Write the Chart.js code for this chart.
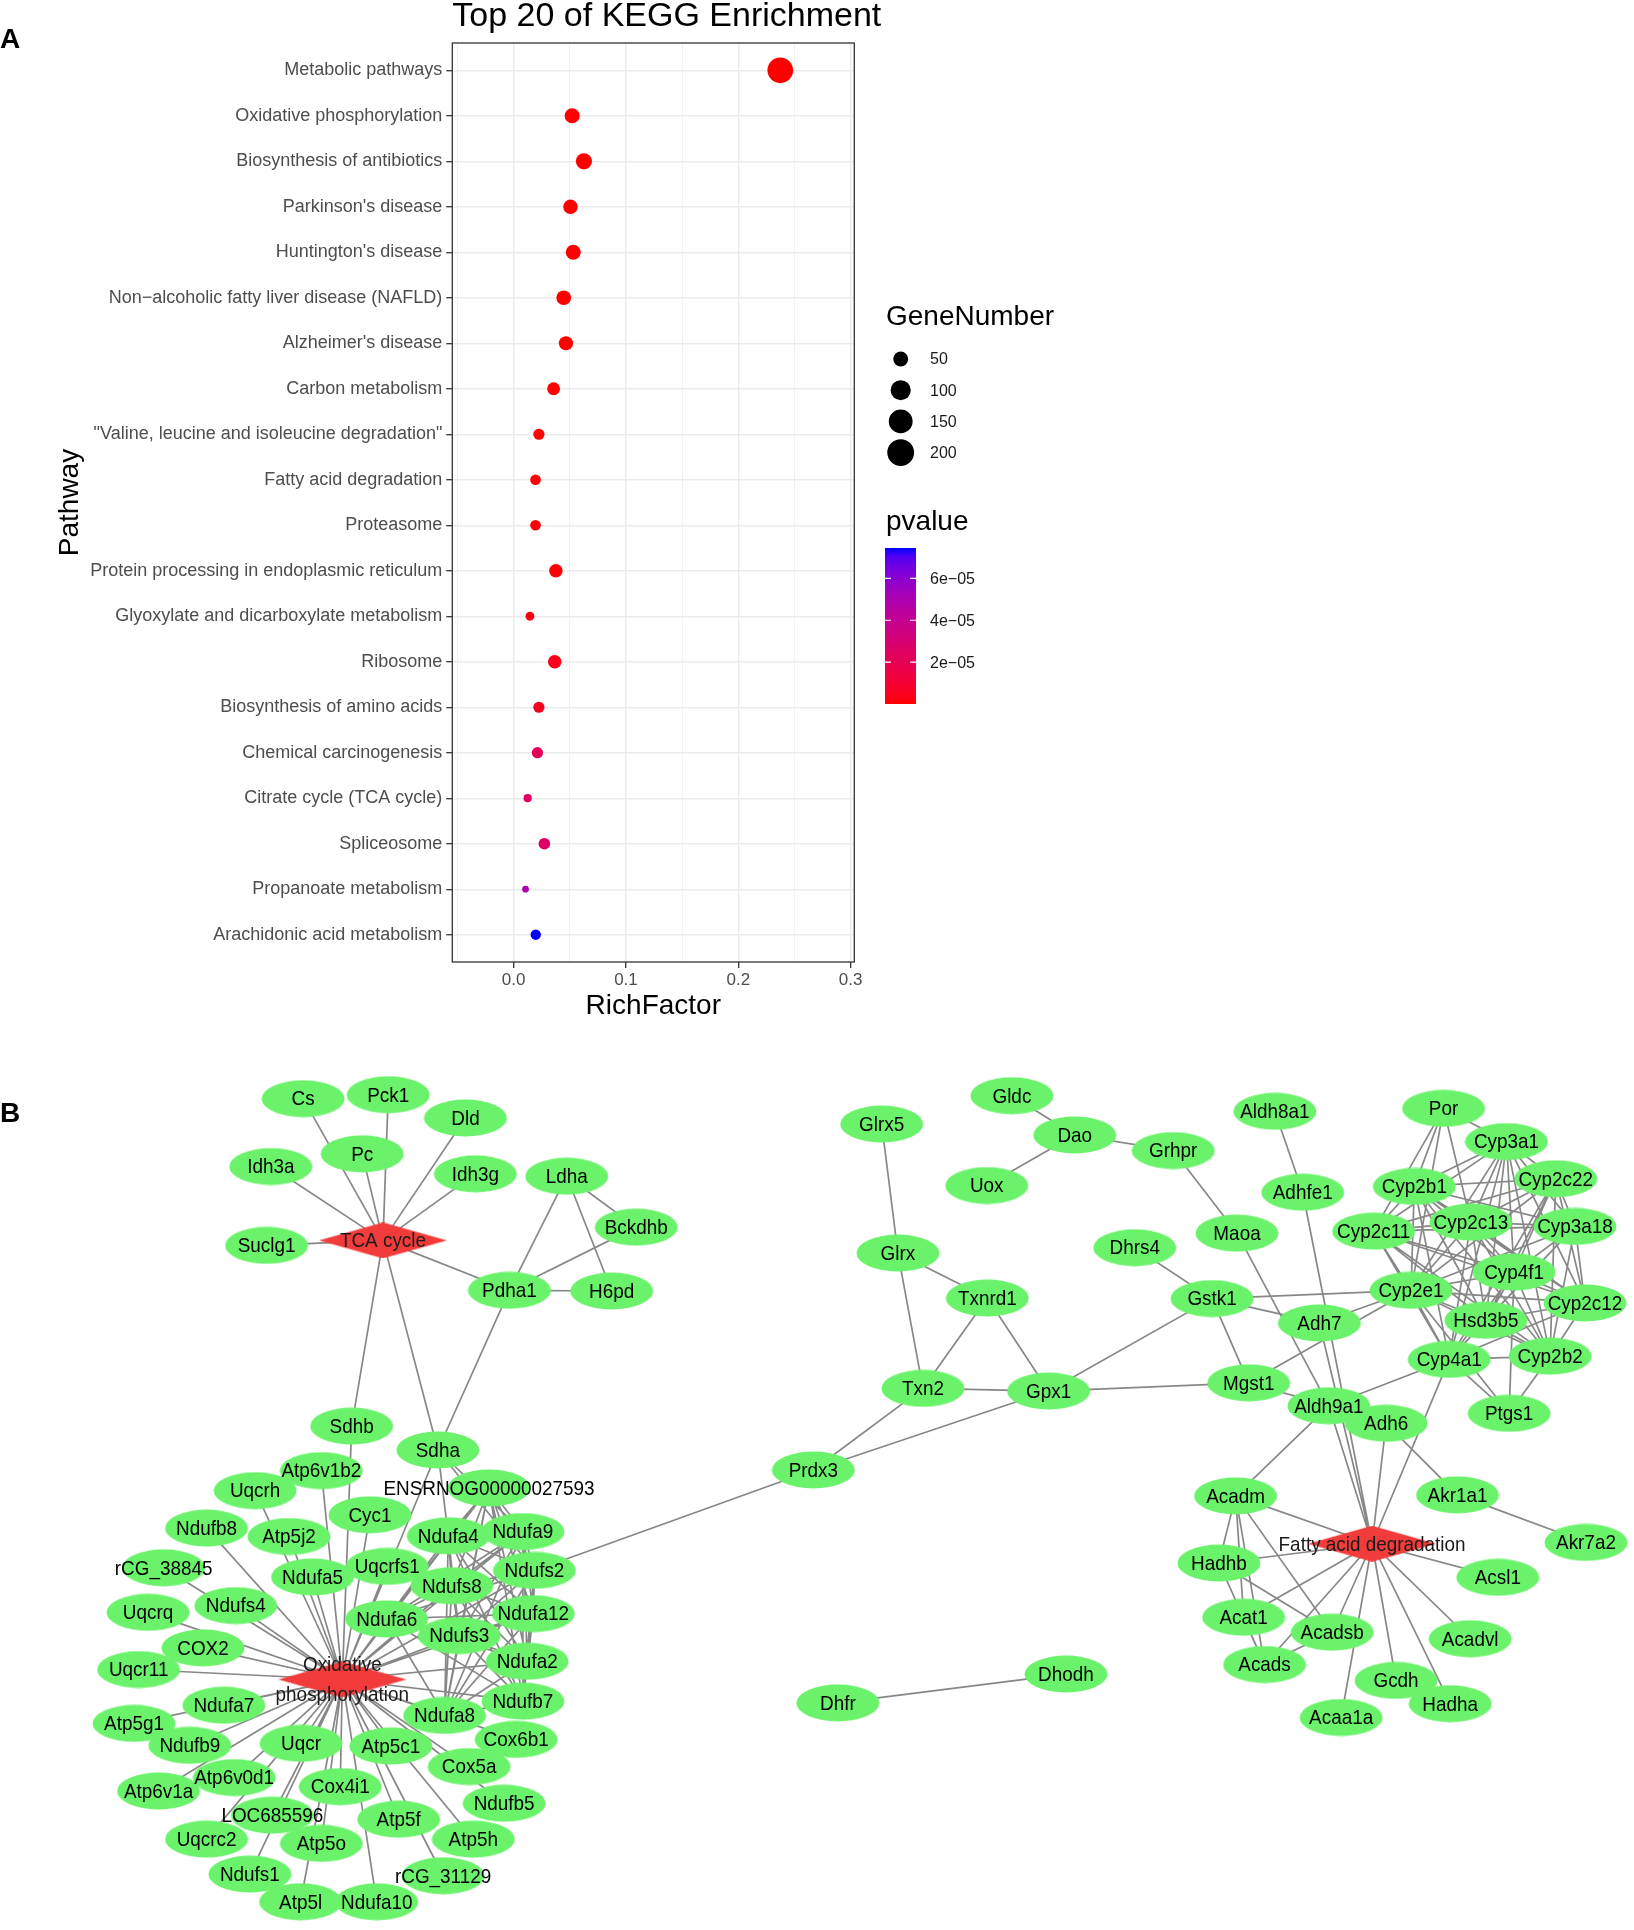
<!DOCTYPE html>
<html><head><meta charset="utf-8">
<script src="https://cdn.jsdelivr.net/npm/chart.js@4.4.1/dist/chart.umd.min.js"></script>
<style>
html,body{margin:0;padding:0;background:#fff;}
body{width:1634px;height:1930px;position:relative;overflow:hidden;}
#wa{position:absolute;left:0;top:0;width:1634px;height:1040px;}
#wb{position:absolute;left:0;top:1040px;width:1634px;height:890px;}
</style></head><body>
<div id="wa"><canvas id="ca"></canvas></div>
<div id="wb"><canvas id="cb"></canvas></div>
<script>
// ---------------- DATA: panel A ----------------
const pathways = [
  "Metabolic pathways",
  "Oxidative phosphorylation",
  "Biosynthesis of antibiotics",
  "Parkinson's disease",
  "Huntington's disease",
  "Non\u2212alcoholic fatty liver disease (NAFLD)",
  "Alzheimer's disease",
  "Carbon metabolism",
  "\"Valine, leucine and isoleucine degradation\"",
  "Fatty acid degradation",
  "Proteasome",
  "Protein processing in endoplasmic reticulum",
  "Glyoxylate and dicarboxylate metabolism",
  "Ribosome",
  "Biosynthesis of amino acids",
  "Chemical carcinogenesis",
  "Citrate cycle (TCA cycle)",
  "Spliceosome",
  "Propanoate metabolism",
  "Arachidonic acid metabolism"
];
const richFactor = [0.2374, 0.0521, 0.0626, 0.0506, 0.0531, 0.0446, 0.0466, 0.0356, 0.0225, 0.0195,
                    0.0195, 0.0376, 0.0145, 0.0366, 0.0225, 0.0212, 0.0125, 0.0274, 0.0106, 0.0197];
const geneNumber = [180, 51, 60, 47, 51, 48, 45, 37, 29, 27,
                    27, 41, 22, 41, 29, 29, 21, 31, 20, 26];
const pValue = [1.2e-20, 3.5e-15, 2.1e-14, 4.0e-13, 1.5e-12, 6.2e-12, 1.8e-10, 2.6e-8, 3.1e-7, 4.4e-7,
                5.9e-7, 1.2e-6, 2.3e-6, 3.6e-6, 5.0e-6, 2.2e-5, 2.4e-5, 2.6e-5, 4.9e-5, 7.45e-5];
const xMajorTicks = [0, 0.1, 0.2, 0.3];
const sizeBreaks = [50, 100, 150, 200];
const pBreaks = [2e-5, 4e-5, 6e-5];
const pBreakLabels = ["2e\u221205", "4e\u221205", "6e\u221205"];

// ---------------- DATA: panel B (network) ----------------
const nodeNames = [
  "Cs","Pck1","Dld","Pc","Idh3a","Idh3g","Ldha","Bckdhb","Suclg1","Pdha1","H6pd","TCA cycle",
  "Sdhb","Sdha","Atp6v1b2","Uqcrh","ENSRNOG00000027593","Cyc1","Ndufb8","Atp5j2","Ndufa4","Ndufa9",
  "rCG_38845","Uqcrfs1","Ndufa5","Ndufs2","Ndufs8","Ndufs4","Uqcrq","Ndufa6","Ndufa12","Ndufs3",
  "COX2","Ndufa2","Uqcr11","Oxidative phosphorylation","Ndufa7","Ndufb7","Ndufa8","Atp5g1","Cox6b1","Ndufb9",
  "Uqcr","Atp5c1","Cox5a","Atp6v0d1","Atp6v1a","Cox4i1","Ndufb5","LOC685596","Atp5f","Uqcrc2",
  "Atp5o","Atp5h","Ndufs1","rCG_31129","Atp5l","Ndufa10",
  "Glrx5","Gldc","Dao","Grhpr","Uox","Aldh8a1","Adhfe1","Maoa","Dhrs4","Glrx","Txnrd1","Gstk1",
  "Adh7","Txn2","Gpx1","Mgst1","Aldh9a1","Prdx3",
  "Por","Cyp3a1","Cyp2b1","Cyp2c22","Cyp2c11","Cyp2c13","Cyp3a18","Cyp4f1","Cyp2e1","Cyp2c12",
  "Hsd3b5","Cyp4a1","Cyp2b2","Ptgs1","Adh6",
  "Acadm","Akr1a1","Akr7a2","Fatty acid degradation","Hadhb","Acsl1","Acat1","Acadsb","Acadvl","Acads",
  "Gcdh","Hadha","Acaa1a",
  "Dhodh","Dhfr"
];
const nodeX = [
  300.0, 385.6, 463.3, 359.4, 267.5, 473.3, 565.2, 635.1, 263.2, 507.5, 610.4, 380.3,
  348.8, 435.5, 318.3, 251.7, 487.0, 367.2, 202.8, 285.8, 446.0, 521.1,
  159.6, 384.6, 309.4, 532.7, 449.6, 232.2, 143.9, 384.1, 531.6, 457.1,
  199.2, 525.4, 134.5, 339.4, 220.2, 521.1, 442.3, 129.8, 514.3, 186.0,
  297.9, 388.2, 467.0, 230.6, 154.5, 337.3, 502.2, 269.0, 396.1, 202.8,
  318.3, 471.2, 246.4, 440.8, 297.4, 374.0,
  882.1, 1013.1, 1076.3, 1175.4, 987.8, 1277.7, 1305.7, 1239.6, 1136.7, 898.4, 988.4, 1214.5,
  1322.5, 923.6, 1050.0, 1251.4, 1332.0, 813.3,
  1447.4, 1510.7, 1418.0, 1560.3, 1377.1, 1474.9, 1579.7, 1518.4, 1414.7, 1589.7,
  1490.0, 1453.1, 1554.6, 1513.4, 1389.6,
  1238.2, 1461.5, 1590.7, 1375.5, 1221.4, 1502.0, 1246.3, 1335.3, 1474.2, 1267.3,
  1399.6, 1454.1, 1344.4,
  1067.5, 838.0
];
const nodeY = [
  1094.3, 1090.3, 1113.8, 1150.1, 1162.9, 1170.3, 1172.7, 1224.2, 1242.7, 1288.1, 1288.8, 1237.6,
  1425.4, 1449.6, 1470.5, 1490.7, 1488.0, 1515.2, 1528.6, 1537.1, 1536.4, 1532.1,
  1568.7, 1567.4, 1578.1, 1571.4, 1586.9, 1607.0, 1613.8, 1620.5, 1615.1, 1637.3,
  1649.7, 1663.3, 1671.6, 1681.7, 1707.7, 1703.6, 1718.1, 1726.1, 1742.3, 1748.3,
  1746.3, 1749.0, 1769.8, 1780.9, 1794.5, 1790.1, 1806.9, 1819.0, 1823.0, 1843.2,
  1847.5, 1843.2, 1878.5, 1880.2, 1906.5, 1906.5,
  1119.9, 1091.3, 1131.0, 1146.8, 1182.1, 1107.1, 1188.9, 1230.3, 1245.0, 1250.4, 1295.9, 1296.5,
  1321.1, 1387.3, 1390.0, 1381.7, 1404.9, 1469.8,
  1104.1, 1137.7, 1183.1, 1175.3, 1228.3, 1219.2, 1223.5, 1269.6, 1288.1, 1300.9,
  1318.4, 1358.0, 1354.7, 1412.5, 1422.6,
  1496.0, 1495.0, 1543.1, 1544.4, 1563.9, 1578.4, 1618.8, 1633.9, 1640.5, 1666.6,
  1682.7, 1706.2, 1720.2,
  1676.2, 1705.4
];
const hubNames = ["TCA cycle", "Oxidative phosphorylation", "Fatty acid degradation"];
const hubMembers = {
  "TCA cycle": ["Cs","Pck1","Dld","Pc","Idh3a","Idh3g","Suclg1","Pdha1","Sdhb","Sdha"],
  "Oxidative phosphorylation": ["Sdhb","Sdha","Atp6v1b2","Uqcrh","ENSRNOG00000027593","Cyc1","Ndufb8","Atp5j2",
    "Ndufa4","Ndufa9","rCG_38845","Uqcrfs1","Ndufa5","Ndufs2","Ndufs8","Ndufs4","Uqcrq","Ndufa6","Ndufa12",
    "Ndufs3","COX2","Ndufa2","Uqcr11","Ndufa7","Ndufb7","Ndufa8","Atp5g1","Cox6b1","Ndufb9","Uqcr","Atp5c1",
    "Cox5a","Atp6v0d1","Atp6v1a","Cox4i1","Ndufb5","LOC685596","Atp5f","Uqcrc2","Atp5o","Atp5h","Ndufs1",
    "rCG_31129","Atp5l","Ndufa10"],
  "Fatty acid degradation": ["Adh7","Aldh9a1","Adhfe1","Adh6","Cyp4a1","Acadm","Hadhb","Acat1","Acadsb","Acads",
    "Acaa1a","Gcdh","Hadha","Acadvl","Acsl1"]
};
const meshGroups = [
  ["ENSRNOG00000027593","Ndufa4","Ndufa9","Ndufs2","Ndufs8","Ndufa12","Ndufs3","Ndufa2","Ndufb7","Ndufa8","Ndufa6"],
  ["Cyp3a1","Cyp2b1","Cyp2c22","Cyp2c11","Cyp2c13","Cyp3a18","Cyp4f1","Cyp2e1","Cyp2c12","Hsd3b5","Cyp2b2","Cyp4a1"]
];
const otherEdges = [
  ["Ldha","Pdha1"],["Ldha","Bckdhb"],["Ldha","H6pd"],["Bckdhb","Pdha1"],["Pdha1","H6pd"],["Pdha1","Sdha"],
  ["Sdha","Ndufa4"],["Sdha","Ndufa9"],["Sdha","Ndufs2"],
  ["Ndufs2","Prdx3"],["Prdx3","Txn2"],["Prdx3","Gpx1"],
  ["Glrx5","Glrx"],["Glrx","Txnrd1"],["Glrx","Txn2"],["Txnrd1","Txn2"],["Txnrd1","Gpx1"],["Txn2","Gpx1"],
  ["Gpx1","Gstk1"],["Gpx1","Mgst1"],["Dhrs4","Gstk1"],["Gstk1","Mgst1"],["Gstk1","Adh7"],["Gstk1","Cyp2e1"],
  ["Gldc","Dao"],["Dao","Grhpr"],["Dao","Uox"],["Grhpr","Maoa"],["Maoa","Aldh9a1"],["Aldh8a1","Adhfe1"],
  ["Adh7","Cyp2e1"],["Mgst1","Cyp2e1"],["Mgst1","Aldh9a1"],["Cyp4a1","Aldh9a1"],["Aldh9a1","Acadm"],
  ["Adh6","Akr1a1"],["Akr1a1","Akr7a2"],
  ["Por","Cyp3a1"],["Por","Cyp2b1"],["Por","Cyp2c11"],["Por","Cyp2c13"],["Por","Cyp2e1"],
  ["Ptgs1","Cyp4a1"],["Ptgs1","Cyp4f1"],["Ptgs1","Cyp2e1"],["Ptgs1","Cyp2b2"],
  ["Acadm","Hadhb"],["Acadm","Acads"],["Acadm","Acadsb"],["Acadm","Acat1"],["Hadhb","Acadsb"],["Hadhb","Acads"],
  ["Acat1","Acads"],["Acadsb","Acads"],
  ["Dhfr","Dhodh"]
];

// ---------------- helpers ----------------
const FONT = "'Liberation Sans', Arial, Helvetica, sans-serif";
Chart.defaults.font.family = FONT;

const RED_LAB = [53.2408, 80.0925, 67.2032];
const BLUE_LAB = [32.2970, 79.1875, -107.8602];
function lab2rgb(L, a, b) {
  let y = (L + 16) / 116, x = a / 500 + y, z = y - b / 200;
  const f = t => (t * t * t > 0.008856 ? t * t * t : (t - 16 / 116) / 7.787);
  x = 0.95047 * f(x); y = 1.0 * f(y); z = 1.08883 * f(z);
  const r = x * 3.2406 + y * -1.5372 + z * -0.4986;
  const g = x * -0.9689 + y * 1.8758 + z * 0.0415;
  const bb = x * 0.0557 + y * -0.2040 + z * 1.0570;
  const gam = c => (c > 0.0031308 ? 1.055 * Math.pow(c, 1 / 2.4) - 0.055 : 12.92 * c);
  return [r, g, bb].map(c => Math.round(Math.max(0, Math.min(1, gam(c))) * 255));
}
const pMin = Math.min(...pValue), pMax = Math.max(...pValue);
function pColor(p) {
  const t = Math.max(0, Math.min(1, (p - pMin) / (pMax - pMin)));
  const L = RED_LAB[0] + (BLUE_LAB[0] - RED_LAB[0]) * t;
  const A = RED_LAB[1] + (BLUE_LAB[1] - RED_LAB[1]) * t;
  const B = RED_LAB[2] + (BLUE_LAB[2] - RED_LAB[2]) * t;
  const c = lab2rgb(L, A, B);
  return `rgb(${c[0]},${c[1]},${c[2]})`;
}
const nMin = Math.min(...geneNumber);
function radius(n) { return (6.7 + 1.5 * Math.sqrt(Math.max(0, n - nMin))) / 2; }
const isMajor = v => xMajorTicks.some(m => Math.abs(m - v) < 1e-6);

// ---------------- Panel A ----------------
const PANEL = { left: 452.3, right: 854.3, top: 43, bottom: 962 };
const X_MIN = -0.0546, X_MAX = 0.3033;

const panelAPlugin = {
  id: 'panelA',
  afterDatasetsDraw(chart) {
    const ctx = chart.ctx, a = chart.chartArea;
    ctx.save();
    ctx.strokeStyle = '#333333';
    ctx.lineWidth = 1.3;
    ctx.strokeRect(a.left, a.top, a.right - a.left, a.bottom - a.top);
    ctx.restore();
  },
  afterDraw(chart) {
    const ctx = chart.ctx;
    ctx.save();
    ctx.fillStyle = '#000';
    ctx.textAlign = 'left';
    ctx.textBaseline = 'alphabetic';
    ctx.font = `34px ${FONT}`;
    ctx.fillText('Top 20 of KEGG Enrichment', chart.chartArea.left, 26);
    ctx.font = `bold 28px ${FONT}`;
    ctx.fillText('A', 0, 48);

    ctx.textBaseline = 'middle';
    ctx.font = `28px ${FONT}`;
    ctx.fillText('GeneNumber', 886, 317);
    sizeBreaks.forEach((v, i) => {
      const y = 359 + i * 31.2;
      ctx.beginPath();
      ctx.arc(900.7, y, radius(v), 0, Math.PI * 2);
      ctx.fillStyle = '#000';
      ctx.fill();
      ctx.font = `16px ${FONT}`;
      ctx.fillStyle = '#1a1a1a';
      ctx.fillText(String(v), 930, y + 1);
    });

    ctx.fillStyle = '#000';
    ctx.font = `28px ${FONT}`;
    ctx.fillText('pvalue', 886, 522);
    const bx = 885, bw = 31, byTop = 548, byBot = 704;
    const grad = ctx.createLinearGradient(0, byBot, 0, byTop);
    for (let k = 0; k <= 20; k++) {
      grad.addColorStop(k / 20, pColor(pMin + (pMax - pMin) * k / 20));
    }
    ctx.fillStyle = grad;
    ctx.fillRect(bx, byTop, bw, byBot - byTop);
    pBreaks.forEach((p, i) => {
      const y = byBot - (p - pMin) / (pMax - pMin) * (byBot - byTop);
      ctx.strokeStyle = '#fff';
      ctx.lineWidth = 1.2;
      ctx.beginPath();
      ctx.moveTo(bx, y); ctx.lineTo(bx + 6, y);
      ctx.moveTo(bx + bw - 6, y); ctx.lineTo(bx + bw, y);
      ctx.stroke();
      ctx.fillStyle = '#1a1a1a';
      ctx.font = `16px ${FONT}`;
      ctx.fillText(pBreakLabels[i], 930, y + 1);
    });
    ctx.restore();
  }
};

new Chart(document.getElementById('ca'), {
  type: 'bubble',
  data: {
    datasets: [{
      data: pathways.map((p, i) => ({ x: richFactor[i], y: i, r: radius(geneNumber[i]) })),
      backgroundColor: pValue.map(pColor),
      borderWidth: 0,
      hoverBorderWidth: 0
    }]
  },
  options: {
    responsive: true,
    maintainAspectRatio: false,
    animation: false,
    events: [],
    layout: { padding: { left: 0, top: PANEL.top, right: 1634 - PANEL.right, bottom: 0 } },
    plugins: { legend: { display: false }, tooltip: { enabled: false } },
    scales: {
      x: {
        type: 'linear', position: 'bottom', min: X_MIN, max: X_MAX,
        afterFit: s => { s.height = 1040 - PANEL.bottom; },
        ticks: {
          stepSize: 0.05, includeBounds: false, autoSkip: false, maxRotation: 0, minRotation: 0,
          padding: 2, color: '#4D4D4D', font: { size: 17 },
          callback: v => (isMajor(v) ? Number(v).toFixed(1) : '')
        },
        grid: {
          color: '#EBEBEB',
          lineWidth: c => (c.tick && isMajor(c.tick.value) ? 1.4 : 0.7),
          drawTicks: true, tickLength: 6, tickWidth: 1.3,
          tickColor: c => (c.tick && isMajor(c.tick.value) ? '#333333' : 'rgba(0,0,0,0)')
        },
        border: { display: false },
        title: { display: true, text: 'RichFactor', color: '#000', font: { size: 28 }, padding: { top: 0, bottom: 17 } }
      },
      y: {
        type: 'linear', min: -0.6, max: pathways.length - 0.4, reverse: true,
        afterFit: s => { s.width = PANEL.left; },
        afterBuildTicks: s => { s.ticks = pathways.map((_, i) => ({ value: i })); },
        ticks: { autoSkip: false, padding: 4, color: '#4D4D4D', font: { size: 18 }, callback: v => pathways[v] },
        grid: { color: '#EBEBEB', lineWidth: 1.4, drawTicks: true, tickLength: 6, tickWidth: 1.3, tickColor: '#333333' },
        border: { display: false },
        title: { display: true, text: 'Pathway', color: '#000', font: { size: 28 }, padding: { top: 53, bottom: 0 } }
      }
    }
  },
  plugins: [panelAPlugin]
});

// ---------------- Panel B ----------------
const idx = {};
nodeNames.forEach((n, i) => { idx[n] = i; });
const edges = [];
hubNames.forEach(h => hubMembers[h].forEach(m => edges.push([h, m])));
meshGroups.forEach(g => { for (let i = 0; i < g.length; i++) for (let j = i + 1; j < g.length; j++) edges.push([g[i], g[j]]); });
otherEdges.forEach(e => edges.push(e));
const edgePoints = [];
edges.forEach(([a, b]) => {
  edgePoints.push({ x: nodeX[idx[a]], y: nodeY[idx[a]] });
  edgePoints.push({ x: nodeX[idx[b]], y: nodeY[idx[b]] });
  edgePoints.push({ x: null, y: null });
});

function makeEllipse() {
  const c = document.createElement('canvas');
  c.width = 84; c.height = 38;
  const g = c.getContext('2d');
  g.fillStyle = '#6BF26B';
  g.beginPath();
  g.ellipse(42, 19, 41.5, 18.5, 0, 0, Math.PI * 2);
  g.fill();
  return c;
}
function makeDiamond() {
  const c = document.createElement('canvas');
  c.width = 128; c.height = 36;
  const g = c.getContext('2d');
  g.fillStyle = '#F23B3B';
  g.beginPath();
  g.moveTo(64, 0); g.lineTo(128, 18); g.lineTo(64, 36); g.lineTo(0, 18); g.closePath();
  g.fill();
  return c;
}
const ellipseImg = makeEllipse();
const diamondImg = makeDiamond();

const labelPlugin = {
  id: 'netLabels',
  afterDatasetsDraw(chart) {
    const ctx = chart.ctx;
    const meta = chart.getDatasetMeta(0);
    ctx.save();
    ctx.textAlign = 'center';
    ctx.textBaseline = 'middle';
    ctx.font = `21px ${FONT}`;
    meta.data.forEach((el, i) => {
      const name = nodeNames[i];
      ctx.save();
      ctx.translate(el.x, el.y);
      ctx.scale(0.9, 1);
      ctx.fillStyle = hubNames.includes(name) ? '#1a1a1a' : '#000';
      if (name === 'Oxidative phosphorylation') {
        ctx.fillText('Oxidative', 0, -14);
        ctx.fillText('phosphorylation', 0, 16);
      } else {
        ctx.fillText(name, 0, 1);
      }
      ctx.restore();
    });
    ctx.restore();
  },
  afterDraw(chart) {
    const ctx = chart.ctx;
    ctx.save();
    ctx.fillStyle = '#000';
    ctx.font = `bold 28px ${FONT}`;
    ctx.textAlign = 'left';
    ctx.textBaseline = 'alphabetic';
    ctx.fillText('B', 0, 1121.7 - 1040);
    ctx.restore();
  }
};

new Chart(document.getElementById('cb'), {
  type: 'scatter',
  data: {
    datasets: [
      {
        type: 'scatter',
        data: nodeNames.map((n, i) => ({ x: nodeX[i], y: nodeY[i] })),
        pointStyle: nodeNames.map(n => (hubNames.includes(n) ? diamondImg : ellipseImg)),
        pointRadius: 3,
        clip: false,
        order: 1
      },
      {
        type: 'line',
        data: edgePoints,
        borderColor: '#878787',
        borderWidth: 1.7,
        pointRadius: 0,
        spanGaps: false,
        tension: 0,
        fill: false,
        clip: false,
        order: 2
      }
    ]
  },
  options: {
    responsive: true,
    maintainAspectRatio: false,
    animation: false,
    events: [],
    layout: { padding: 0 },
    plugins: { legend: { display: false }, tooltip: { enabled: false } },
    scales: {
      x: { type: 'linear', min: 0, max: 1634, display: false },
      y: { type: 'linear', min: 1040, max: 1930, reverse: true, display: false }
    }
  },
  plugins: [labelPlugin]
});
</script>
</body></html>
